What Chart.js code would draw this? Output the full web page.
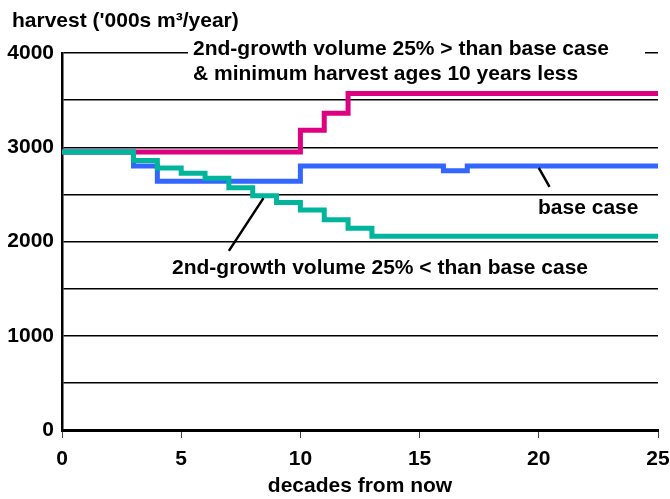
<!DOCTYPE html>
<html lang="en">
<head>
  <meta charset="UTF-8">
  <title>Harvest projections</title>
  <script src="https://cdn.jsdelivr.net/npm/chart.js"></script>
  <style>
    html, body { margin: 0; padding: 0; background: #fff; }
    #wrap { width: 670px; height: 499px; }
  </style>
</head>
<body>
  <div id="wrap"><canvas id="harvestChart" width="670" height="499"></canvas></div>

  <script>
    // harvest per decade, '000s m3/year
    const decades = [0, 1, 2, 3, 4, 5, 6, 7, 8, 9, 10, 11, 12, 13, 14, 15, 16, 17, 18, 19, 20, 21, 22, 23, 24, 25];
    const baseCase = [2950, 2950, 2950, 2800, 2640, 2640, 2640, 2640, 2640, 2640, 2800, 2800, 2800,
                      2800, 2800, 2800, 2750, 2800, 2800, 2800, 2800, 2800, 2800, 2800, 2800, 2800];
    const higherVolume = [2950, 2950, 2950, 2950, 2950, 2950, 2950, 2950, 2950, 2950, 3180, 3360, 3570,
                          3570, 3570, 3570, 3570, 3570, 3570, 3570, 3570, 3570, 3570, 3570, 3570, 3570];
    const lowerVolume = [2950, 2950, 2950, 2860, 2780, 2725, 2670, 2570, 2485, 2415, 2335, 2230, 2140,
                         2055, 2055, 2055, 2055, 2055, 2055, 2055, 2055, 2055, 2055, 2055, 2055, 2055];
    const xTicks = [0, 5, 10, 15, 20, 25];
    const yLabelTicks = [0, 1000, 2000, 3000, 4000];

    const yTitle = "harvest ('000s m\u00b3/year)";
    const xTitle = 'decades from now';
    const upperNote = ['2nd-growth volume 25% > than base case', '& minimum harvest ages 10 years less'];
    const lowerNote = '2nd-growth volume 25% < than base case';
    const baseNote = 'base case';

    const FONT = '"Liberation Sans", Arial, sans-serif';

    const toPoints = vals => decades.map((d, i) => ({ x: d, y: vals[i] }));

    // text labels and leader lines
    const notes = {
      id: 'notes',
      afterDraw(chart) {
        const { ctx, scales: { x, y } } = chart;
        ctx.save();

        // blank out the top gridline behind the upper note
        ctx.fillStyle = '#fff';
        ctx.fillRect(188, 38, 457, 46);

        ctx.fillStyle = '#000';
        ctx.font = 'bold 21px ' + FONT;
        ctx.textBaseline = 'alphabetic';
        ctx.textAlign = 'left';
        ctx.fillText(yTitle, 12, 27);
        ctx.fillText(upperNote[0], 193, 55);
        ctx.fillText(upperNote[1], 193, 80);
        ctx.fillText(baseNote, 538, 214);
        ctx.fillText(lowerNote, 172, 274);

        ctx.strokeStyle = '#000';
        ctx.lineWidth = 2.5;
        ctx.beginPath();
        ctx.moveTo(x.getPixelForValue(20), y.getPixelForValue(2780));
        ctx.lineTo(x.getPixelForValue(20.45), y.getPixelForValue(2580));
        ctx.moveTo(x.getPixelForValue(8.45), y.getPixelForValue(2460));
        ctx.lineTo(x.getPixelForValue(7.0), y.getPixelForValue(1900));
        ctx.stroke();
        ctx.restore();
      }
    };

    const ctx = document.getElementById('harvestChart').getContext('2d');
    new Chart(ctx, {
      type: 'line',
      data: {
        datasets: [
          {
            label: lowerNote,
            data: toPoints(lowerVolume),
            borderColor: '#00b59c',
            borderWidth: 5,
            stepped: true,
            pointRadius: 0,
            order: 0,
          },
          {
            label: baseNote,
            data: toPoints(baseCase),
            borderColor: '#3366ff',
            borderWidth: 5,
            stepped: true,
            pointRadius: 0,
            order: 1,
          },
          {
            label: upperNote.join(' '),
            data: toPoints(higherVolume),
            borderColor: '#dd0080',
            borderWidth: 5,
            stepped: true,
            pointRadius: 0,
            order: 2,
          },
        ],
      },
      options: {
        responsive: false,
        animation: false,
        events: [],
        layout: { padding: { left: 0, right: 12, top: 53, bottom: 0 } },
        plugins: {
          legend: { display: false },
          tooltip: { enabled: false },
        },
        scales: {
          x: {
            type: 'linear',
            min: 0,
            max: 25,
            afterFit: scale => {
              scale.height = 69;
              scale.paddingLeft = 0;
              scale.paddingRight = 0;
            },
            afterBuildTicks: scale => { scale.ticks = xTicks.map(v => ({ value: v })); },
            ticks: {
              color: '#000',
              font: { family: FONT, size: 21, weight: 'bold' },
              padding: 9,
              maxRotation: 0,
            },
            grid: { drawOnChartArea: false, drawTicks: true, tickLength: 8, color: '#444', lineWidth: 1 },
            border: { color: '#000', width: 3 },
            title: {
              display: true,
              text: xTitle,
              color: '#000',
              font: { family: FONT, size: 21, weight: 'bold' },
              padding: { top: 0, bottom: 0 },
            },
          },
          y: {
            min: 0,
            max: 4000,
            afterFit: scale => { scale.width = 62; },
            ticks: {
              stepSize: 500,
              autoSkip: false,
              color: '#000',
              font: { family: FONT, size: 21, weight: 'bold' },
              padding: 8,
              callback: v => (yLabelTicks.includes(v) ? v : ''),
            },
            grid: { color: '#000', lineWidth: 1.5, drawTicks: false },
            border: { color: '#000', width: 2.5 },
          },
        },
      },
      plugins: [notes],
    });
  </script>
</body>
</html>
